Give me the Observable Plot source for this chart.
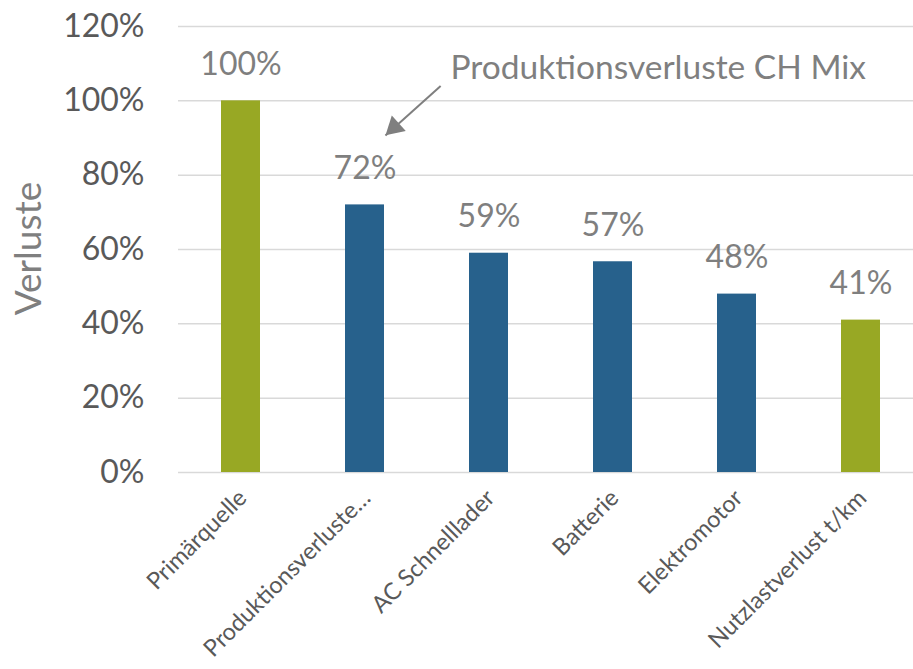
<!DOCTYPE html>
<html>
<head>
<meta charset="utf-8">
<script src="https://cdn.jsdelivr.net/npm/d3@7"></script>
<script src="https://cdn.jsdelivr.net/npm/@observablehq/plot@0.6"></script>
<style>
  html, body { margin: 0; padding: 0; background: #fff; }
  #chart { width: 913px; height: 669px; }
</style>
</head>
<body>
<div id="chart"></div>
<script>
// ---- data ----
const categories = ["Primärquelle", "Produktionsverluste…", "AC Schnelllader", "Batterie", "Elektromotor", "Nutzlastverlust t/km"];
const values = [1.00, 0.72, 0.59, 0.567, 0.48, 0.41];
const kinds = ["Quelle", "Verlust", "Verlust", "Verlust", "Verlust", "Nutzlast"];
const yTicks = [0, 0.2, 0.4, 0.6, 0.8, 1.0, 1.2];
const yLabel = "Verluste";
const annotationText = "Produktionsverluste CH Mix";
const annotationAt = [2.19, 1.087];       // [category index, value]
const arrowFrom = [2.11, 1.04];
const arrowTo = [1.665, 0.907];

const pct = d3.format(".0%");
const data = categories.map((c, i) => ({c, i, v: values[i], k: kinds[i], label: pct(values[i])}));

const green = "#98A824";
const blue = "#27618C";

const chart = Plot.plot({
  width: 913,
  height: 669,
  marginLeft: 178,
  marginRight: 0,
  marginTop: 26,
  marginBottom: 197,
  style: {fontFamily: "Lato, 'Open Sans', sans-serif", background: "#fff", overflow: "visible"},
  x: {type: "linear", domain: [0, 6], range: [178.5, 922.5], axis: null},
  y: {domain: [0, 1.2], axis: null},
  color: {domain: ["Quelle", "Verlust", "Nutzlast"], range: [green, blue, green]},
  marks: [
    Plot.ruleY(yTicks, {stroke: "#d9d9d9", strokeWidth: 1.5}),
    Plot.axisY({ticks: yTicks, tickFormat: pct, tickSize: 0, tickPadding: 34, fontSize: 32, fill: "#595959", label: null}),
    Plot.text([yLabel], {frameAnchor: "left", textAnchor: "middle", dx: -149, dy: -1, rotate: -90, fontSize: 37, fill: "#7f7f7f"}),
    Plot.rectY(data, {x1: d => d.i, x2: d => d.i + 1, y: "v", fill: "k", insetLeft: 42.5, insetRight: 42.5}),
    Plot.text(data, {x: d => d.i + 0.5, y: "v", text: "label", dy: -36, fontSize: 32, fill: "#7f7f7f"}),
    Plot.text(data, {x: d => d.i + 0.5, text: "c", frameAnchor: "bottom", rotate: -45, textAnchor: "end", dx: 7, dy: 27, fontSize: 23.5, fill: "#595959"}),
    Plot.text([annotationText], {x: annotationAt[0], y: annotationAt[1], textAnchor: "start", fontSize: 33.5, fill: "#7f7f7f"}),
    Plot.link([0], {x1: arrowFrom[0], y1: arrowFrom[1], x2: arrowTo[0], y2: arrowTo[1], stroke: "#7f7f7f", strokeWidth: 2}),
    Plot.dot([arrowTo], {x: d => d[0], y: d => d[1], symbol: "triangle", r: 7.7, rotate: 227.7, fill: "#7f7f7f", stroke: "none", dx: 8.9, dy: -8.1})
  ]
});
document.getElementById("chart").appendChild(chart);
</script>
</body>
</html>
